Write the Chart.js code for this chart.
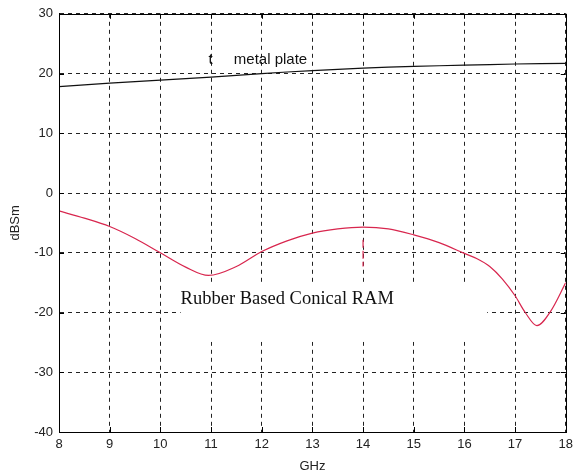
<!DOCTYPE html>
<html><head><meta charset="utf-8">
<script src="https://cdn.jsdelivr.net/npm/chart.js@4"></script>
<style>html,body{margin:0;padding:0;background:#fff}#c{display:block}</style>
</head><body>
<canvas id="c" width="578" height="474"></canvas>
<script>
const xTicks = [8,9,10,11,12,13,14,15,16,17,18];
const yTicks = [-40,-30,-20,-10,0,10,20,30];
const metalX = [8,9,10,11,12,13,14,15,16,17,18];
const metalY = [17.8,18.4,18.9,19.4,20.0,20.5,20.9,21.2,21.4,21.6,21.7];
const ramX = [8,8.5,9,9.5,10,10.5,10.95,11.5,12,12.5,13,13.5,14,14.5,15,15.5,16,16.25,16.5,16.75,17,17.2,17.43,17.7,18];
const ramY = [-3,-4.2,-5.6,-7.6,-10,-12.4,-13.8,-12.3,-9.8,-8,-6.7,-6,-5.7,-6,-7,-8.3,-10.1,-11.0,-12.3,-14.4,-17.2,-20,-22.2,-19.8,-15];
const markX = [14,14];
const markY = [-7.8,-12.3];
const labels = {metal:'metal plate', t:'t', ram:'Rubber Based Conical RAM', x:'GHz', y:'dBSm'};

const pts = (xs, ys) => xs.map((x,i)=>({x, y: ys[i]}));

const annot = {
  id:'annot',
  beforeDatasetsDraw(chart){
    const {ctx, scales:{x,y}} = chart;
    ctx.save();
    ctx.fillStyle='#fff';
    const x0=x.getPixelForValue(10.4), x1=x.getPixelForValue(16.45);
    const y0=y.getPixelForValue(-15.4), y1=y.getPixelForValue(-24.9);
    ctx.fillRect(x0,y0,x1-x0,y1-y0);
    ctx.restore();
  },
  afterDatasetsDraw(chart){
    const {ctx, chartArea:a, scales:{x,y}} = chart;
    ctx.save();
    ctx.strokeStyle='#000'; ctx.lineWidth=1;
    ctx.setLineDash([]);
    ctx.strokeRect(Math.round(a.left)+0.5, Math.round(a.top)+0.5, Math.round(a.right-a.left), Math.round(a.bottom-a.top));
    ctx.beginPath();
    xTicks.forEach(v=>{const px=Math.round(x.getPixelForValue(v))+0.5; ctx.moveTo(px,a.bottom); ctx.lineTo(px,a.bottom-5); ctx.moveTo(px,a.top); ctx.lineTo(px,a.top+5);});
    yTicks.forEach(v=>{const py=Math.round(y.getPixelForValue(v))+0.5; ctx.moveTo(a.left,py); ctx.lineTo(a.left+5,py); ctx.moveTo(a.right,py); ctx.lineTo(a.right-5,py);});
    ctx.stroke();
    ctx.fillStyle='#111';
    ctx.font='18.5px "Liberation Serif"';
    ctx.textBaseline='alphabetic';
    ctx.fillText(labels.ram, x.getPixelForValue(10.4), y.getPixelForValue(-18.6));
    ctx.font='15px "Liberation Sans"';
    ctx.fillText(labels.metal, x.getPixelForValue(11.45), y.getPixelForValue(21.6));
    ctx.fillText(labels.t, x.getPixelForValue(10.95), y.getPixelForValue(21.6));
    ctx.restore();
  }
};

new Chart(document.getElementById('c'), {
  type:'scatter',
  data:{datasets:[
    {data:pts(metalX,metalY), showLine:true, borderColor:'#111', borderWidth:1.2, pointRadius:0, tension:0.3},
    {data:pts(ramX,ramY), showLine:true, borderColor:'#d8264e', borderWidth:1.2, pointRadius:0, cubicInterpolationMode:'monotone'},
    {data:pts(markX,markY), showLine:true, borderColor:'#d8264e', borderWidth:1.2, pointRadius:0, borderDash:[8,3]}
  ]},
  options:{
    responsive:false, animation:false,
    layout:{padding:{top:13,right:12,left:0,bottom:0}},
    plugins:{legend:{display:false}, tooltip:{enabled:false}},
    scales:{
      x:{type:'linear', min:8, max:18,
        afterBuildTicks(s){s.ticks=xTicks.map(v=>({value:v}));},
        afterFit(s){s.height=42;},
        grid:{color:'#222', lineWidth:1, drawTicks:false},
        border:{display:true,color:'#000', dash:[4,4]},
        ticks:{color:'#222', font:{family:'Liberation Sans', size:13}, padding:5, maxRotation:0},
        title:{display:true, text:labels.x, color:'#222', font:{family:'Liberation Sans', size:13}, padding:{top:0,bottom:0}}
      },
      y:{min:-40, max:30,
        afterBuildTicks(s){s.ticks=yTicks.map(v=>({value:v}));},
        afterFit(s){s.width=59;},
        grid:{color:'#222', lineWidth:1, drawTicks:false},
        border:{display:true,color:'#000', dash:[4,4]},
        ticks:{color:'#222', font:{family:'Liberation Sans', size:13}, padding:6},
        title:{display:true, text:labels.y, color:'#222', font:{family:'Liberation Sans', size:13}, padding:{top:8,bottom:0}}
      }
    }
  },
  plugins:[annot]
});
</script>
</body></html>
